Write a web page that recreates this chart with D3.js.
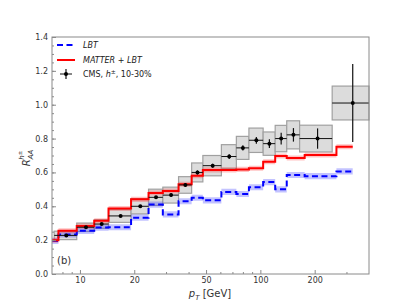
<!DOCTYPE html>
<html lang="en">
<head>
<meta charset="UTF-8">
<title>RAA h 10-30%</title>
<script src="https://d3js.org/d3.v7.min.js"></script>
<style>
  body { margin: 0; background: #fff; }
  text { font-family: "DejaVu Sans", sans-serif; }
</style>
</head>
<body>
<div id="chart"></div>
<script>
// model histograms (bin edges + value per bin)
const modelEdges = [7, 7.6, 9.6, 12, 14.4, 19.2, 24, 28.8, 35.2, 41.6, 48, 60.8, 73.6, 86.4, 103.6, 120.8, 140, 176, 264, 325];
const lbtVals    = [0.195, 0.233, 0.255, 0.274, 0.276, 0.333, 0.41, 0.352, 0.43, 0.45, 0.435, 0.485, 0.473, 0.512, 0.543, 0.50, 0.585, 0.578, 0.606];
const lbtErr     = [0.018, 0.018, 0.018, 0.018, 0.018, 0.018, 0.018, 0.018, 0.018, 0.018, 0.018, 0.018, 0.018, 0.018, 0.018, 0.018, 0.018, 0.018, 0.018];
const matterVals = [0.20, 0.255, 0.283, 0.314, 0.387, 0.441, 0.478, 0.49, 0.53, 0.58, 0.615, 0.615, 0.618, 0.625, 0.663, 0.697, 0.685, 0.703, 0.752];
const matterErr  = [0.015, 0.015, 0.015, 0.015, 0.015, 0.015, 0.015, 0.015, 0.015, 0.015, 0.015, 0.015, 0.015, 0.015, 0.015, 0.015, 0.015, 0.015, 0.015];

// CMS h+- 10-30%
const cmsLo   = [7.2, 9.6, 12, 14.4, 19.2, 24, 28.8, 35.2, 41.6, 48, 60.8, 73.6, 86.4, 103.6, 120.8, 140, 165, 250];
const cmsHi   = [9.6, 12, 14.4, 19.2, 24, 28.8, 35.2, 41.6, 48, 60.8, 73.6, 86.4, 103.6, 120.8, 140, 165, 250, 400];
const cmsVal  = [0.228, 0.276, 0.295, 0.343, 0.40, 0.453, 0.466, 0.526, 0.60, 0.64, 0.694, 0.745, 0.79, 0.77, 0.80, 0.822, 0.80, 1.01];
const cmsStat = [0.005, 0.005, 0.005, 0.005, 0.006, 0.008, 0.009, 0.01, 0.012, 0.012, 0.014, 0.016, 0.02, 0.026, 0.035, 0.04, 0.06, 0.23];
const cmsSys  = [0.025, 0.025, 0.025, 0.038, 0.045, 0.048, 0.047, 0.049, 0.056, 0.06, 0.07, 0.068, 0.072, 0.069, 0.078, 0.083, 0.079, 0.10];

const xMajor = [10, 20, 50, 100, 200];
const xMinor = [8, 9, 30, 40, 60, 70, 80, 90, 300];
const yMajor = [0, 0.2, 0.4, 0.6, 0.8, 1.0, 1.2, 1.4];
const yMinor = d3.range(0, 1.401, 0.05);

const W = 411, H = 308;
const margin = {top: 37, right: 42, bottom: 34, left: 52},
    width = W - margin.left - margin.right,
    height = H - margin.top - margin.bottom;

const svg = d3.select('#chart').append('svg')
    .attr('width', W).attr('height', H);
const g = svg.append('g')
    .attr('transform', `translate(${margin.left},${margin.top})`);

const x = d3.scaleLog().domain([7, 400]).range([0, width]);
const y = d3.scaleLinear().domain([0, 1.4]).range([height, 0]);

const gray = '#8a8a8a';

// CMS systematic boxes
const cms = cmsVal.map((v, i) => ({lo: cmsLo[i], hi: cmsHi[i], v, st: cmsStat[i], sy: cmsSys[i]}));
g.append('g').selectAll('rect').data(cms).join('rect')
    .attr('x', d => x(d.lo))
    .attr('width', d => x(d.hi) - x(d.lo))
    .attr('y', d => y(d.v + d.sy))
    .attr('height', d => y(d.v - d.sy) - y(d.v + d.sy))
    .attr('fill', '#dcdcdc')
    .attr('stroke', '#a0a0a0')
    .attr('stroke-width', 1.2);

// models
function stepPts(vals, errs) {
    return modelEdges.map((e, i) => {
        const k = Math.min(i, vals.length - 1);
        return {x: e, v: vals[k], e: errs[k]};
    });
}
const band = d3.area().curve(d3.curveStepAfter)
    .x(d => x(d.x)).y0(d => y(d.v - d.e)).y1(d => y(d.v + d.e));
const line = d3.line().curve(d3.curveStepAfter)
    .x(d => x(d.x)).y(d => y(d.v));

const lbt = stepPts(lbtVals, lbtErr);
const mat = stepPts(matterVals, matterErr);

g.append('path').datum(lbt).attr('d', band).attr('fill', 'rgba(40,40,255,0.28)');
g.append('path').datum(lbt).attr('d', line)
    .attr('fill', 'none').attr('stroke', '#0000ff').attr('stroke-width', 2)
    .attr('stroke-dasharray', '6,3.5');
g.append('path').datum(mat).attr('d', band).attr('fill', 'rgba(255,40,40,0.28)');
g.append('path').datum(mat).attr('d', line)
    .attr('fill', 'none').attr('stroke', '#ff0000').attr('stroke-width', 2);

// CMS points
const pts = g.append('g');
pts.selectAll('.hb').data(cms).join('line')
    .attr('x1', d => x(d.lo)).attr('x2', d => x(d.hi))
    .attr('y1', d => y(d.v)).attr('y2', d => y(d.v))
    .attr('stroke', '#111').attr('stroke-width', 1);
pts.selectAll('.vb').data(cms).join('line')
    .attr('x1', d => x((d.lo + d.hi) / 2)).attr('x2', d => x((d.lo + d.hi) / 2))
    .attr('y1', d => y(d.v - d.st)).attr('y2', d => y(d.v + d.st))
    .attr('stroke', '#111').attr('stroke-width', 1.2);
pts.selectAll('circle').data(cms).join('circle')
    .attr('cx', d => x((d.lo + d.hi) / 2)).attr('cy', d => y(d.v))
    .attr('r', 2).attr('fill', '#000');

// axes (ticks inward)
const xAx = g.append('g').attr('transform', `translate(0,${height})`);
xAx.call(d3.axisBottom(x).tickValues(xMajor).tickFormat(d3.format('d')).tickSizeInner(-4).tickSizeOuter(0).tickPadding(3.5));
xAx.append('g').call(d3.axisBottom(x).tickValues(xMinor).tickFormat('').tickSizeInner(-2).tickSizeOuter(0));
const yAx = g.append('g');
yAx.call(d3.axisLeft(y).tickValues(yMajor).tickFormat(d3.format('.1f')).tickSizeInner(-4).tickSizeOuter(0).tickPadding(4));
yAx.append('g').call(d3.axisLeft(y).tickValues(yMinor).tickFormat('').tickSizeInner(-2).tickSizeOuter(0));
g.selectAll('.domain').remove();
g.selectAll('.tick line').attr('stroke', gray);
g.selectAll('.tick text').attr('fill', '#333').style('font-size', '8px');

// frame
g.append('rect').attr('width', width).attr('height', height)
    .attr('fill', 'none').attr('stroke', gray).attr('stroke-width', 1);

// axis labels
const xl = svg.append('text').attr('x', 210).attr('y', 297)
    .attr('text-anchor', 'middle').attr('fill', '#333').style('font-size', '10px');
xl.append('tspan').attr('font-style', 'italic').text('p');
xl.append('tspan').attr('font-style', 'italic').attr('font-size', '7px').attr('dy', 2.5).text('T');
xl.append('tspan').attr('dy', -2.5).text(' [GeV]');

const yl = svg.append('text')
    .attr('transform', 'translate(30,158) rotate(-90)')
    .attr('text-anchor', 'middle').attr('fill', '#333').style('font-size', '10px');
yl.append('tspan').attr('font-style', 'italic').text('R');
yl.append('tspan').attr('font-style', 'italic').attr('font-size', '7px').attr('dy', 3).text('AA');
yl.append('tspan').attr('font-style', 'italic').attr('font-size', '7px').attr('dx', -10).attr('dy', -9).text('h');
yl.append('tspan').attr('font-size', '5.5px').attr('dy', -2).text('±');

svg.append('text').attr('x', 57).attr('y', 264).attr('fill', '#333')
    .style('font-size', '10px').text('(b)');

// legend
const leg = svg.append('g');
leg.append('line').attr('x1', 57).attr('x2', 75).attr('y1', 45).attr('y2', 45)
    .attr('stroke', '#0000ff').attr('stroke-width', 2).attr('stroke-dasharray', '6,3.5');
leg.append('line').attr('x1', 57).attr('x2', 75).attr('y1', 60).attr('y2', 60)
    .attr('stroke', '#ff0000').attr('stroke-width', 2);
leg.append('line').attr('x1', 60).attr('x2', 72).attr('y1', 74).attr('y2', 74).attr('stroke', '#111');
leg.append('line').attr('x1', 66).attr('x2', 66).attr('y1', 69).attr('y2', 79).attr('stroke', '#111').attr('stroke-width', 1.2);
leg.append('circle').attr('cx', 66).attr('cy', 74).attr('r', 2).attr('fill', '#000');

leg.append('text').attr('x', 83).attr('y', 48).attr('font-style', 'italic')
    .attr('fill', '#222').style('font-size', '8px').text('LBT');
leg.append('text').attr('x', 83).attr('y', 63).attr('font-style', 'italic')
    .attr('fill', '#222').style('font-size', '8px').text('MATTER + LBT');
const ct = leg.append('text').attr('x', 83).attr('y', 77).attr('fill', '#222').style('font-size', '8px');
ct.append('tspan').text('CMS, ');
ct.append('tspan').attr('font-style', 'italic').text('h');
ct.append('tspan').attr('font-size', '6px').attr('dy', -3).text('±');
ct.append('tspan').attr('dy', 3).text(', 10-30%');
</script>
</body>
</html>
